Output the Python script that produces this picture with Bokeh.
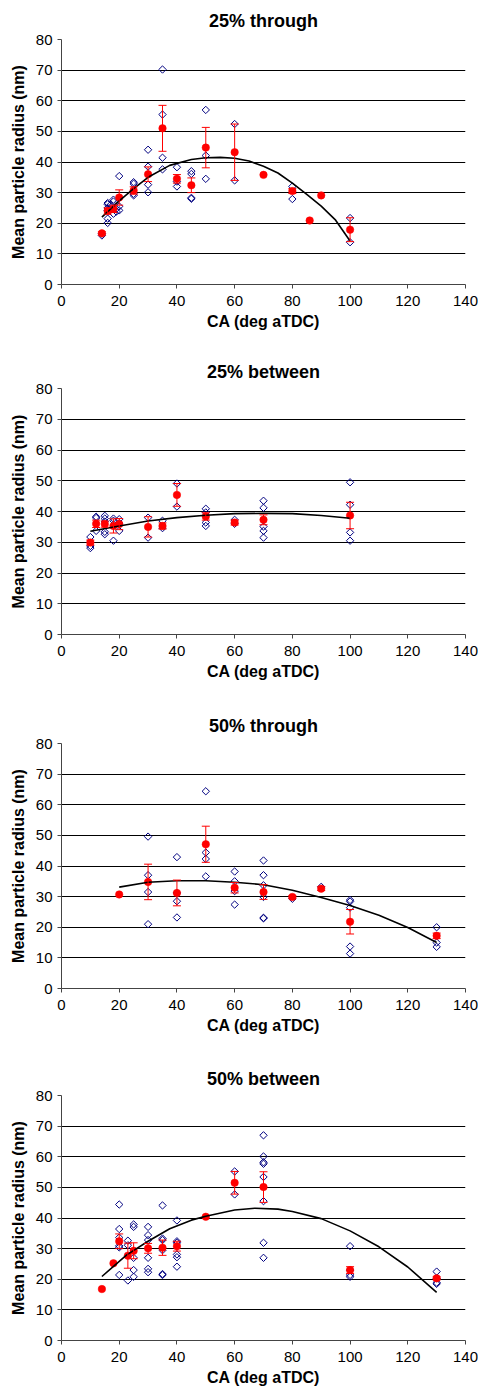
import numpy as np
from bokeh.plotting import figure
from bokeh.models import Whisker, ColumnDataSource, TeeHead, FixedTicker, Range1d
from bokeh.layouts import column
from bokeh.embed import file_html
from bokeh.resources import INLINE

titles = ["25% through", "25% between", "50% through", "50% between"]
x_label = "CA (deg aTDC)"
y_label = "Mean particle radius (nm)"
x_ticks = [0, 20, 40, 60, 80, 100, 120, 140]
y_ticks = [0, 10, 20, 30, 40, 50, 60, 70, 80]

# ---- Panel 1: 25% through ----
p1_blue_x = [14, 14, 16, 16, 16, 16, 16, 16, 17, 17, 18, 18, 18, 19, 19, 20, 20, 20,
             25, 25, 25, 25, 30, 30, 30, 30, 35, 35, 35, 35, 40, 40, 40,
             45, 45, 45, 45, 50, 50, 50, 60, 60, 80, 80, 100, 100]
p1_blue_y = [16.6, 16.0, 26.6, 26.2, 25.0, 21.5, 20.1, 24.2, 24.4, 26.0, 27.7, 27.1, 23.1, 23.8, 24.7, 35.4, 24.2, 25.5,
             33.4, 32.9, 29.6, 29.1, 44.0, 38.5, 32.6, 30.1, 70.2, 55.5, 41.4, 37.6, 38.3, 33.6, 32.0,
             37.0, 36.1, 28.3, 28.0, 57.0, 42.1, 34.5, 52.4, 34.0, 32.0, 27.9, 21.7, 13.8]
p1_mean_x = [14, 16, 18, 20, 25, 30, 35, 40, 45, 50, 60, 70, 80, 86, 90, 100]
p1_mean_y = [16.7, 24.0, 24.7, 28.4, 30.7, 36.0, 51.0, 34.5, 32.4, 44.7, 43.2, 35.8, 30.5, 20.9, 29.1, 17.9]
p1_err = [0.5, 1.0, 1.2, 2.5, 1.2, 2.4, 7.5, 1.4, 2.4, 6.6, 9.2, 0, 0.8, 0, 0, 3.9]
p1_fit_x = [14, 20, 25, 30, 37.5, 45, 50, 55, 60, 65, 70, 75, 80, 85, 90, 95, 100]
p1_fit_y = [22.0, 27.3, 31.3, 35.0, 38.9, 40.8, 41.4, 41.5, 41.2, 40.3, 38.6, 36.4, 33.1, 29.4, 25.6, 21.0, 14.2]

# ---- Panel 2: 25% between ----
p2_blue_x = [10, 10, 10, 12, 12, 12, 15, 15, 15, 15, 15, 18, 18, 18, 20, 20, 20,
             30, 30, 35, 35, 40, 40, 50, 50, 50, 50, 60, 60,
             70, 70, 70, 70, 70, 100, 100, 100, 100]
p2_blue_y = [31.7, 28.8, 28.1, 38.3, 37.9, 33.7, 38.6, 37.7, 36.7, 33.4, 32.6, 37.7, 37.0, 30.5, 37.5, 33.7, 36.2,
             38.0, 31.5, 37.0, 34.6, 49.1, 41.6, 40.9, 39.7, 36.4, 35.3, 37.3, 36.0,
             43.5, 41.2, 35.1, 33.7, 31.5, 49.5, 42.2, 33.2, 30.5]
p2_mean_x = [10, 12, 15, 18, 20, 30, 35, 40, 50, 60, 70, 100]
p2_mean_y = [29.9, 36.0, 35.9, 35.3, 35.9, 35.0, 35.3, 45.4, 38.4, 36.4, 37.3, 38.7]
p2_err = [0.8, 1.2, 1.0, 2.3, 1.8, 3.3, 1.0, 3.7, 1.2, 0.8, 1.6, 4.3]
p2_fit_x = [10, 20, 30, 40, 50, 60, 70, 80, 90, 100]
p2_fit_y = [33.6, 35.3, 36.9, 38.0, 38.8, 39.3, 39.4, 39.3, 38.7, 37.8]

# ---- Panel 3: 50% through ----
p3_blue_x = [30, 30, 30, 30, 40, 40, 40, 40, 50, 50, 50, 50, 60, 60, 60, 60,
             70, 70, 70, 70, 70, 70, 80, 90, 100, 100, 100, 100, 100, 130, 130, 130]
p3_blue_y = [49.6, 37.0, 31.5, 21.0, 42.9, 31.2, 28.5, 23.2, 64.4, 44.4, 42.3, 36.6, 38.2, 35.0, 31.8, 27.4,
             41.8, 37.0, 33.7, 29.9, 23.1, 22.9, 29.3, 33.2, 28.9, 28.4, 26.4, 13.7, 11.4, 20.0, 15.0, 13.6]
p3_mean_x = [20, 30, 40, 50, 60, 70, 80, 90, 100, 130]
p3_mean_y = [30.7, 34.8, 31.2, 47.1, 32.9, 31.5, 29.9, 32.6, 21.8, 17.2]
p3_err = [0, 5.8, 4.2, 5.9, 1.7, 2.4, 0.4, 0.6, 4.0, 0.9]
p3_fit_x = [20, 30, 40, 50, 60, 70, 80, 90, 100, 110, 120, 130]
p3_fit_y = [33.1, 34.7, 35.2, 35.2, 34.7, 33.9, 32.1, 29.7, 27.1, 23.9, 19.9, 15.0]

# ---- Panel 4: 50% between ----
p4_blue_x = [20, 20, 20, 20, 20, 20, 23, 23, 23, 25, 25, 25, 25, 25,
             30, 30, 30, 30, 30, 30, 35, 35, 35, 35, 35, 35, 40, 40, 40, 40, 40, 40,
             60, 60, 70, 70, 70, 70, 70, 70, 70, 70, 100, 100, 100, 100, 130, 130, 130, 130]
p4_blue_y = [44.4, 36.4, 33.6, 30.9, 30.4, 21.4, 32.6, 31.1, 19.6, 37.9, 37.1, 27.0, 23.0, 20.8,
             37.1, 34.4, 32.8, 27.0, 23.4, 22.3, 44.1, 33.3, 32.8, 29.5, 21.7, 21.4, 39.2, 32.4, 31.9, 28.1, 27.2, 24.1,
             55.2, 47.7, 67.0, 60.1, 58.2, 57.7, 53.4, 45.5, 31.9, 27.0, 30.8, 23.0, 21.4, 20.8, 22.5, 20.3, 18.9, 18.5]
p4_mean_x = [14, 18, 20, 23, 25, 30, 35, 40, 50, 60, 70, 100, 130]
p4_mean_y = [16.8, 25.2, 32.4, 27.7, 29.3, 30.1, 30.3, 30.8, 40.4, 51.5, 50.1, 23.0, 20.3]
p4_err = [0, 0, 2.4, 4.1, 2.6, 1.6, 2.5, 1.6, 0, 3.7, 5.0, 1.1, 0.5]
p4_fit_x = [14, 22.5, 30, 37.5, 45, 50, 60, 67, 75, 80, 90, 100, 110, 120, 130]
p4_fit_y = [20.9, 27.9, 32.4, 36.5, 39.3, 40.6, 42.6, 43.2, 42.9, 42.1, 39.8, 35.8, 30.6, 24.0, 15.7]

FONT = "Liberation Sans"


def make_panel(title, bx, by, mx, my, me, fx, fy, height, top, bottom, title_gap):
    p = figure(width=478, height=height, output_backend="svg", toolbar_location=None,
               x_range=Range1d(0, 140), y_range=Range1d(0, 80),
               min_border_left=61, min_border_right=13,
               min_border_top=top, min_border_bottom=bottom,
               background_fill_color="white", border_fill_color="white")
    p.outline_line_color = None
    p.title.text = title
    p.title.text_font = FONT
    p.title.text_font_size = "18px"
    p.title.text_font_style = "bold"
    p.title.text_color = "black"
    p.title.align = "center"
    p.title.offset = -5
    p.title.standoff = title_gap

    p.xgrid.grid_line_color = None
    p.ygrid.grid_line_color = "black"
    p.ygrid.grid_line_width = 1
    p.yaxis.ticker = FixedTicker(ticks=y_ticks)
    p.xaxis.ticker = FixedTicker(ticks=x_ticks)
    for ax in (p.xaxis[0], p.yaxis[0]):
        ax.axis_line_color = "#444444"
        ax.major_tick_line_color = "#444444"
        ax.major_tick_out = 4
        ax.major_tick_in = 0
        ax.minor_tick_line_color = None
        ax.major_label_text_font = FONT
        ax.major_label_text_font_size = "15px"
        ax.major_label_text_color = "black"
        ax.axis_label_text_font = FONT
        ax.axis_label_text_font_size = "16px"
        ax.axis_label_text_font_style = "bold"
        ax.axis_label_text_color = "black"
    p.xaxis.axis_label = x_label
    p.yaxis.axis_label = y_label
    p.xaxis.major_label_standoff = 7
    p.xaxis.axis_label_standoff = 4
    p.yaxis.major_label_standoff = 5
    p.yaxis.axis_label_standoff = 6

    # individual measurements
    p.scatter(bx, by, marker="square", angle=np.pi / 4, size=5.2,
              fill_color=None, line_color="#000080", line_width=1)

    # error bars
    ex = [x for x, e in zip(mx, me) if e > 0]
    ey = [y for y, e in zip(my, me) if e > 0]
    ee = [e for e in me if e > 0]
    src = ColumnDataSource(dict(x=ex, upper=[y + e for y, e in zip(ey, ee)],
                                lower=[y - e for y, e in zip(ey, ee)]))
    w = Whisker(source=src, base="x", upper="upper", lower="lower", dimension="height",
                line_color="red", line_width=1, level="glyph",
                upper_head=TeeHead(size=8, line_color="red", line_width=1),
                lower_head=TeeHead(size=8, line_color="red", line_width=1))
    p.add_layout(w)

    # means
    p.scatter(mx, my, marker="circle", size=7.5, fill_color="#ff0000",
              line_color="#ff0000", line_width=0.5)

    # trend curve
    p.line(fx, fy, line_color="black", line_width=1.6)
    return p


figs = [
    make_panel(titles[0], p1_blue_x, p1_blue_y, p1_mean_x, p1_mean_y, p1_err, p1_fit_x, p1_fit_y, 351, 38, 67, 17),
    make_panel(titles[1], p2_blue_x, p2_blue_y, p2_mean_x, p2_mean_y, p2_err, p2_fit_x, p2_fit_y, 354, 37, 71, 14),
    make_panel(titles[2], p3_blue_x, p3_blue_y, p3_mean_x, p3_mean_y, p3_err, p3_fit_x, p3_fit_y, 353, 37, 70, 16),
    make_panel(titles[3], p4_blue_x, p4_blue_y, p4_mean_x, p4_mean_y, p4_err, p4_fit_x, p4_fit_y, 330, 37, 47, 14),
]

layout = column(*figs, spacing=0)
open("out.html", "w").write(file_html(layout, INLINE))
